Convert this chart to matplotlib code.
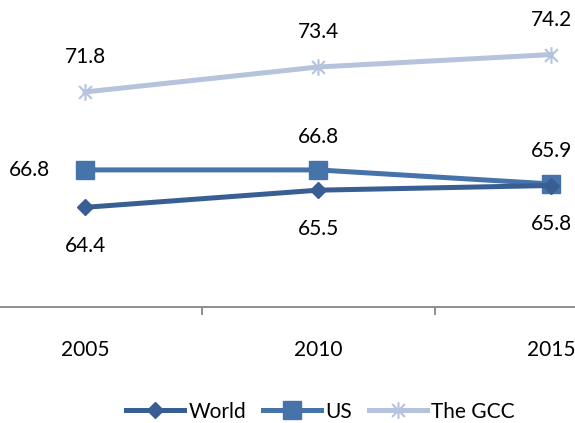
import matplotlib.pyplot as plt
from matplotlib.path import Path

# Datos de la gráfica
years = ["2005", "2010", "2015"]
world = [64.4, 65.5, 65.8]
us = [66.8, 66.8, 65.9]
gcc = [71.8, 73.4, 74.2]

plt.rcParams['font.family'] = ['Lato', 'DejaVu Sans']

# Marcador tipo asterisco (x con barra vertical)
star_marker = Path(
    [(-1, -1), (1, 1), (-1, 1), (1, -1), (0, -1.3), (0, 1.3)],
    [Path.MOVETO, Path.LINETO, Path.MOVETO, Path.LINETO, Path.MOVETO, Path.LINETO],
)

fig = plt.figure(figsize=(5.75, 4.23), dpi=100)
ax = fig.add_axes([0, 0.274, 1, 0.726])

x = list(range(len(years)))
c_world, c_us, c_gcc = "#395E93", "#4673AA", "#B5C3DC"

ax.plot(x, gcc, color=c_gcc, lw=3.6, marker=star_marker, ms=12,
        mfc="none", mec=c_gcc, mew=1.5, label="The GCC", zorder=2)
ax.plot(x, us, color=c_us, lw=3.6, marker="s", ms=12.5,
        mfc=c_us, mec=c_us, label="US", zorder=3)
ax.plot(x, world, color=c_world, lw=3.6, marker="D", ms=8.5,
        mfc=c_world, mec=c_world, label="World", zorder=4)

fs = 15
# Etiquetas de valores
for i, v in enumerate(world):
    ax.annotate(f"{v:.1f}", (i, v), xytext=(0, -28), textcoords="offset points",
                ha="center", va="center", fontsize=fs)
for i, v in enumerate(us):
    off = (-40, 0) if i == 0 else (0, 24)
    ax.annotate(f"{v:.1f}", (i, v), xytext=off, textcoords="offset points",
                ha="center", va="center", fontsize=fs)
for i, v in enumerate(gcc):
    ax.annotate(f"{v:.1f}", (i, v), xytext=(0, 25), textcoords="offset points",
                ha="center", va="center", fontsize=fs)

ax.set_xlim(-0.365, 2.103)
ax.set_ylim(58, 77.7)

for s in ["top", "right", "left"]:
    ax.spines[s].set_visible(False)
ax.spines["bottom"].set_color("#868686")
ax.spines["bottom"].set_linewidth(1.3)
ax.set_yticks([])

ax.set_xticks(x)
ax.set_xticklabels(years, fontsize=fs)
ax.tick_params(axis="x", which="major", length=0, pad=24)
ax.set_xticks([0.5, 1.5], minor=True)
ax.tick_params(axis="x", which="minor", length=6, width=1.3, color="#868686")

handles, labels = ax.get_legend_handles_labels()
order = [2, 1, 0]
fig.legend([handles[i] for i in order], [labels[i] for i in order],
           loc="center", bbox_to_anchor=(0.557, 0.027), ncol=3, frameon=False,
           fontsize=fs, handlelength=2.8, columnspacing=0.8, handletextpad=0.2)

fig.savefig("out.png", dpi=100)
